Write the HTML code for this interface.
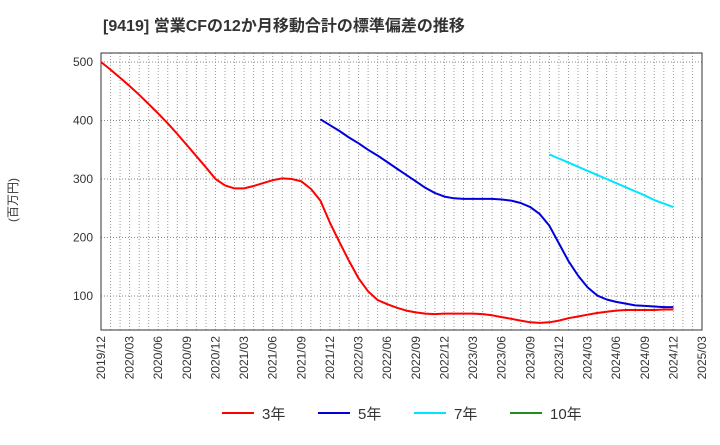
<!DOCTYPE html>
<html><head><meta charset="utf-8"><style>
body{margin:0;background:#fff;font-family:"Liberation Sans","Noto Sans CJK JP",sans-serif;}
</style></head><body>
<svg id="c" width="720" height="440" xmlns="http://www.w3.org/2000/svg">
<text x="103" y="31" font-size="16" font-weight="bold" fill="#333">[9419]  営業CFの12か月移動合計の標準偏差の推移</text>
<text transform="translate(17,200) rotate(-90)" text-anchor="middle" font-size="12" fill="#333">(百万円)</text>
<g id="grid"></g><g id="axes"></g><g id="series"></g><g id="legend"></g>
</svg>
<script>
const xLabels=["2019/12","2020/03","2020/06","2020/09","2020/12","2021/03","2021/06","2021/09","2021/12","2022/03","2022/06","2022/09","2022/12","2023/03","2023/06","2023/09","2023/12","2024/03","2024/06","2024/09","2024/12","2025/03"];
const yTicks=[100,200,300,400,500];
const s3=[500,487,473,459,444,428,412,395,377,358,339,320,300,289,284,284,288,293,298,301,300,296,283,263,225,192,160,130,108,93,86,80,75,72,70,69,70,70,70,70,69,67,64,61,58,55,54,55,58,62,65,68,71,73,75,76,76,76,76,77,77];
const s3Start=0;
const s5=[402,392,382,371,361,350,340,329,318,307,296,285,276,270,267,266,266,266,266,265,263,259,252,240,220,190,160,135,115,101,94,90,87,84,83,82,81,81];
const s5Start=23;
const s7=[342,335,328,321,314,307,300,293,286,279,272,264,258,252];
const s7Start=47;
const s10=[];
const series=[{n:"3年",c:"#ff0000",d:s3,s:s3Start},{n:"5年",c:"#0000dd",d:s5,s:s5Start},{n:"7年",c:"#00e5ff",d:s7,s:s7Start},{n:"10年",c:"#228b22",d:s10,s:0}];
const L=101,R=702,T=53,B=330,NM=63;
const X=i=>L+(R-L)*i/NM;
const Y=v=>354.5-v*0.585;
const NS="http://www.w3.org/2000/svg";
function mk(t,a,p){const e=document.createElementNS(NS,t);for(const k in a)e.setAttribute(k,a[k]);p.appendChild(e);return e;}
const g=document.getElementById('grid'),ax=document.getElementById('axes'),sg=document.getElementById('series'),lg=document.getElementById('legend');
for(let i=1;i<NM;i++){const l=mk('line',{x1:X(i),x2:X(i),y1:T,y2:B,stroke:'#999','stroke-dasharray':'1,2','stroke-width':1},g);

}
yTicks.forEach(v=>{const l=mk('line',{x1:L,x2:R,y1:Y(v),y2:Y(v),stroke:'#888','stroke-dasharray':'1,2'},g);


const t=mk('text',{x:L-8,y:Y(v)+4,'text-anchor':'end','font-size':12,fill:'#333'},ax);t.textContent=v;

});
const fr=mk('rect',{x:L,y:T,width:R-L,height:B-T,fill:'none',stroke:'#333','stroke-width':1},ax);


xLabels.forEach((s,k)=>{const x=X(k*3);const t=mk('text',{transform:`translate(${x+4},336) rotate(-90)`,'text-anchor':'end','font-size':12,fill:'#333'},ax);t.textContent=s;

});
series.forEach((s,k)=>{if(s.d.length){const pts=s.d.map((v,i)=>X(s.s+i).toFixed(1)+','+Y(v).toFixed(1)).join(' ');
const p=mk('polyline',{points:pts,fill:'none',stroke:s.c,'stroke-width':2,'stroke-linejoin':'round'},sg);

}
const lx=222+k*96;
const gi=mk('g',{},lg);


mk('line',{x1:lx,x2:lx+32,y1:413,y2:413,stroke:s.c,'stroke-width':2},gi);
const t=mk('text',{x:lx+40,y:419,'font-size':15,fill:'#333'},gi);t.textContent=s.n;});
</script>
</body></html>
